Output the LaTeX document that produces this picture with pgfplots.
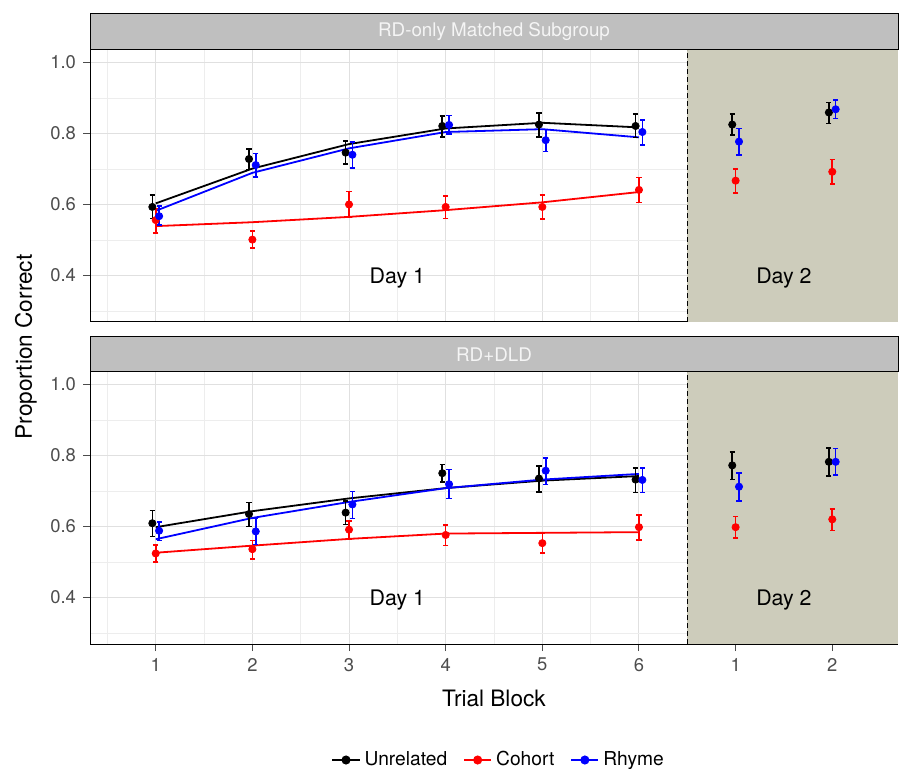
\documentclass[border=0pt]{standalone}
\usepackage{pgfplots}
\pgfplotsset{compat=1.18}
\usepackage{pgfplotstable}
\usepackage{fontspec}
\setmainfont{TeX Gyre Heros}

\definecolor{stripgray}{RGB}{191,191,191}
\definecolor{dayshade}{RGB}{205,204,187}
\definecolor{ticklab}{RGB}{77,77,77}
\definecolor{majgrid}{RGB}{224,224,224}
\definecolor{mingrid}{RGB}{237,237,237}

% ---------- Top panel: RD-only Matched Subgroup ----------
\pgfplotstableread{
x y ep em
0.965 0.593 0.033 0.033
1.965 0.728 0.029 0.029
2.965 0.746 0.033 0.032
3.965 0.821 0.028 0.031
4.965 0.825 0.033 0.035
5.965 0.821 0.033 0.032
6.965 0.825 0.029 0.029
7.965 0.859 0.028 0.031
}\topU
\pgfplotstableread{
x y ep em
1 0.556 0.033 0.036
2 0.501 0.025 0.024
3 0.600 0.037 0.035
4 0.593 0.030 0.032
5 0.593 0.033 0.034
6 0.641 0.035 0.036
7 0.667 0.033 0.034
8 0.692 0.035 0.035
}\topC
\pgfplotstableread{
x y ep em
1.035 0.567 0.029 0.025
2.035 0.711 0.033 0.033
3.035 0.740 0.036 0.038
4.035 0.824 0.027 0.026
5.035 0.781 0.030 0.032
6.035 0.804 0.033 0.037
7.035 0.777 0.037 0.038
8.035 0.868 0.026 0.026
}\topR
\pgfplotstableread{
x u c r
1 0.603 0.539 0.582
2 0.701 0.550 0.689
3 0.770 0.565 0.758
4 0.814 0.584 0.804
5 0.830 0.606 0.812
6 0.817 0.635 0.789
}\topFit

% ---------- Bottom panel: RD+DLD ----------
\pgfplotstableread{
x y ep em
0.965 0.609 0.036 0.037
1.965 0.635 0.033 0.035
2.965 0.639 0.032 0.034
3.965 0.750 0.025 0.025
4.965 0.735 0.035 0.038
5.965 0.732 0.033 0.036
6.965 0.772 0.038 0.040
7.965 0.782 0.039 0.040
}\botU
\pgfplotstableread{
x y ep em
1 0.524 0.023 0.024
2 0.536 0.025 0.027
3 0.591 0.025 0.027
4 0.576 0.028 0.030
5 0.553 0.027 0.027
6 0.598 0.035 0.036
7 0.598 0.030 0.031
8 0.620 0.030 0.031
}\botC
\pgfplotstableread{
x y ep em
1.035 0.588 0.024 0.027
2.035 0.586 0.038 0.037
3.035 0.662 0.037 0.040
4.035 0.719 0.041 0.040
5.035 0.757 0.036 0.039
6.035 0.731 0.034 0.035
7.035 0.712 0.039 0.041
8.035 0.782 0.037 0.037
}\botR
\pgfplotstableread{
x u c r
1 0.598 0.526 0.564
2 0.643 0.546 0.624
3 0.679 0.565 0.669
4 0.708 0.580 0.708
5 0.729 0.582 0.732
6 0.742 0.584 0.748
}\botFit

\pgfplotsset{
  panel/.style={
    scale only axis, width=404pt, height=136pt,
    xmin=0.32, xmax=8.68, ymin=0.269, ymax=1.035,
    xtick={1,2,3,4,5,6,7,8}, minor xtick={0.5,1.5,2.5,3.5,4.5,5.5,6.5,7.5,8.5},
    ytick={0.4,0.6,0.8,1.0}, minor ytick={0.3,0.5,0.7,0.9},
    grid=both,
    major grid style={majgrid, line width=0.5pt},
    minor grid style={mingrid, line width=0.4pt},
    tick align=outside, tick pos=left,
    major tick length=3.5pt, minor tick length=0pt,
    tick style={black!70, line width=0.5pt},
    yticklabel style={font=\fontsize{9.2}{11}\selectfont, text=ticklab,
      /pgf/number format/.cd, fixed, fixed zerofill, precision=1, assume math mode=true},
    xticklabel style={font=\fontsize{9.2}{11}\selectfont, text=ticklab},
    axis line style={black, line width=0.5pt},
    legend image code/.code={\draw[mark repeat=2,mark phase=2,#1] plot coordinates {(0pt,0pt) (6.8pt,0pt) (13.6pt,0pt)};},
  },
  fitline/.style={line width=0.9pt, no markers, forget plot},
  pts/.style={only marks, mark=*, mark size=1.8pt, color=#1, forget plot,
    error bars/.cd, y dir=both, y explicit,
    error mark=-,
    error bar style={#1, line width=0.8pt},
    error mark options={#1, line width=0.8pt, mark size=1.3pt, rotate=90}},
}

\begin{document}
\begin{tikzpicture}
\path[use as bounding box] (0pt,0pt) rectangle (449.5pt,-384.5pt);

% ---------------- top panel ----------------
\begin{axis}[panel, at={(45pt,-161pt)}, anchor=south west,
  xticklabels={}, xtick style={draw=none}]
  \fill[dayshade] (axis cs:6.5,0.269) rectangle (axis cs:8.68,1.035);
  \draw[black, line width=0.5pt, dash pattern=on 2.5pt off 1.5pt] (axis cs:6.5,0.269) -- (axis cs:6.5,1.035);
  \addplot[black, fitline] table[x=x,y=u] {\topFit};
  \addplot[red, fitline] table[x=x,y=c] {\topFit};
  \addplot[blue, fitline] table[x=x,y=r] {\topFit};
  \addplot[pts=black] table[x=x,y=y,y error plus=ep,y error minus=em] {\topU};
  \addplot[pts=red] table[x=x,y=y,y error plus=ep,y error minus=em] {\topC};
  \addplot[pts=blue] table[x=x,y=y,y error plus=ep,y error minus=em] {\topR};
  \node[anchor=base, font=\fontsize{10.7}{12}\selectfont] at (axis cs:3.5,0.377) {Day 1};
  \node[anchor=base, font=\fontsize{10.7}{12}\selectfont] at (axis cs:7.5,0.377) {Day 2};
\end{axis}

% ---------------- bottom panel ----------------
\begin{axis}[panel, at={(45pt,-322pt)}, anchor=south west,
  xticklabels={1,2,3,4,5,6,1,2},
  legend style={at={(0.507,-0.4265)}, anchor=center, draw=none, fill=none,
    legend columns=3, font=\fontsize{9.6}{11}\selectfont,
    /tikz/every even column/.append style={column sep=6pt}},
  legend cell align=left]
  \fill[dayshade] (axis cs:6.5,0.269) rectangle (axis cs:8.68,1.035);
  \draw[black, line width=0.5pt, dash pattern=on 2.5pt off 1.5pt] (axis cs:6.5,0.269) -- (axis cs:6.5,1.035);
  \addplot[black, fitline] table[x=x,y=u] {\botFit};
  \addplot[red, fitline] table[x=x,y=c] {\botFit};
  \addplot[blue, fitline] table[x=x,y=r] {\botFit};
  \addplot[pts=black] table[x=x,y=y,y error plus=ep,y error minus=em] {\botU};
  \addplot[pts=red] table[x=x,y=y,y error plus=ep,y error minus=em] {\botC};
  \addplot[pts=blue] table[x=x,y=y,y error plus=ep,y error minus=em] {\botR};
  \node[anchor=base, font=\fontsize{10.7}{12}\selectfont] at (axis cs:3.5,0.377) {Day 1};
  \node[anchor=base, font=\fontsize{10.7}{12}\selectfont] at (axis cs:7.5,0.377) {Day 2};
  \addlegendimage{black, line width=0.9pt, mark=*, mark size=1.8pt}
  \addlegendentry{Unrelated}
  \addlegendimage{red, line width=0.9pt, mark=*, mark size=1.8pt}
  \addlegendentry{Cohort}
  \addlegendimage{blue, line width=0.9pt, mark=*, mark size=1.8pt}
  \addlegendentry{Rhyme}
\end{axis}

% ---------------- strips ----------------
\draw[fill=stripgray, line width=0.5pt] (45pt,-7pt) rectangle (449pt,-24.6pt);
\node[text=white!96!black, font=\fontsize{9.4}{11}\selectfont] at (247pt,-15.8pt) {RD-only Matched Subgroup};
\draw[fill=stripgray, line width=0.5pt] (45pt,-168.5pt) rectangle (449pt,-185.6pt);
\node[text=white!96!black, font=\fontsize{9.4}{11}\selectfont] at (247pt,-177.1pt) {RD+DLD};

% ---------------- axis titles ----------------
\node[anchor=base, font=\fontsize{11.3}{13}\selectfont] at (247pt,-353pt) {Trial Block};
\node[anchor=base, rotate=90, font=\fontsize{11.3}{13}\selectfont] at (16pt,-173.5pt) {Proportion Correct};
\end{tikzpicture}
\end{document}
